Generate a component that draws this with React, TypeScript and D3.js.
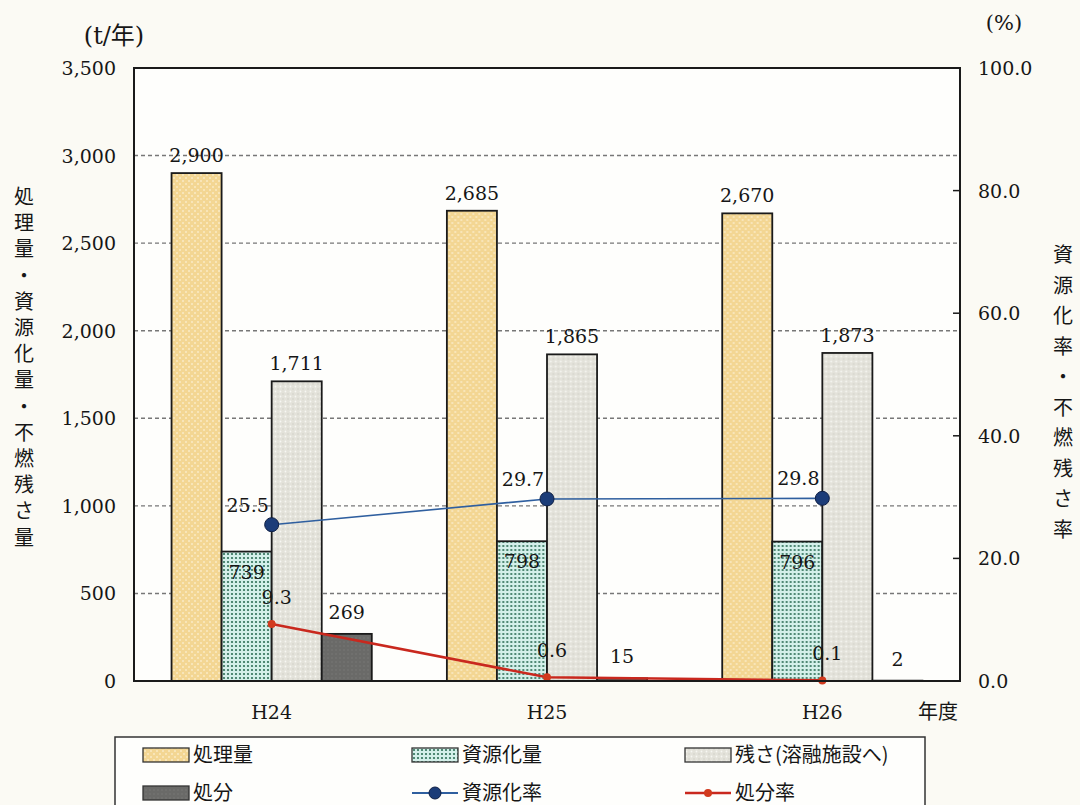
import * as d3 from "d3";

const years = ["H24", "H25", "H26"];
const seriesKeys = ["shori", "shigen", "zansa", "shobun"];
const seriesNames = ["処理量", "資源化量", "残さ(溶融施設へ)", "処分"];
const shoriVals = [2900, 2685, 2670];
const shigenVals = [739, 798, 796];
const zansaVals = [1711, 1865, 1873];
const shobunVals = [269, 15, 2];
const shigenRate = [25.5, 29.7, 29.8];
const shobunRate = [9.3, 0.6, 0.1];
const leftTicks = [0, 500, 1000, 1500, 2000, 2500, 3000, 3500];
const rightTicks = [0, 20, 40, 60, 80, 100];
const leftTitle = "処理量・資源化量・不燃残さ量";
const rightTitle = "資源化率・不燃残さ率";

const W = 1080;
const H = 805;
const PL = 134;
const PR = 960;
const PT = 68;
const PB = 681;

const SERIF = "'DejaVu Serif', serif";
const JP = "'Noto Sans CJK JP', sans-serif";
const INK = "#161616";

const fills: Record<string, string> = {
  shori: "url(#pShori)",
  shigen: "url(#pShigen)",
  zansa: "url(#pZansa)",
  shobun: "url(#pShobun)",
};

export default function App() {
  const x0 = d3.scaleBand<string>().domain(years).range([PL, PR]);
  const x1 = d3
    .scaleBand<string>()
    .domain(seriesKeys)
    .range([0, x0.bandwidth()])
    .paddingOuter(0.75);
  const y = d3.scaleLinear().domain([0, 3500]).range([PB, PT]);
  const yr = d3.scaleLinear().domain([0, 100]).range([PB, PT]);
  const fmt = d3.format(",");

  const valsByKey: Record<string, number[]> = {
    shori: shoriVals,
    shigen: shigenVals,
    zansa: zansaVals,
    shobun: shobunVals,
  };

  const cx = (yr_: string) => (x0(yr_) ?? 0) + x0.bandwidth() / 2;

  const line = d3
    .line<number>()
    .x((_, i) => cx(years[i]))
    .y((d) => yr(d));

  return (
    <div style={{ position: "absolute", left: 0, top: 0 }}>
      <svg width={W} height={H} style={{ display: "block", background: "#fbfaf4" }}>
        <defs>
          <pattern id="pShori" width="6" height="6" patternUnits="userSpaceOnUse">
            <rect width="6" height="6" fill="#f3d693" />
            <rect x="0" y="0" width="2" height="2" fill="#f8e5b8" />
            <rect x="3" y="3" width="2" height="2" fill="#f8e5b8" />
          </pattern>
          <pattern id="pShigen" width="4" height="4" patternUnits="userSpaceOnUse">
            <rect width="4" height="4" fill="#d4f0ea" />
            <circle cx="2" cy="2" r="1.1" fill="#2f6f58" />
          </pattern>
          <pattern id="pZansa" width="5" height="5" patternUnits="userSpaceOnUse">
            <rect width="5" height="5" fill="#e3e2da" />
            <circle cx="1.5" cy="1.5" r="0.9" fill="#f7f7f3" />
            <circle cx="4" cy="4" r="0.7" fill="#cfcec6" />
          </pattern>
          <pattern id="pShobun" width="4" height="4" patternUnits="userSpaceOnUse">
            <rect width="4" height="4" fill="#6a6a68" />
            <circle cx="2" cy="2" r="0.8" fill="#787876" />
          </pattern>
        </defs>

        {/* plot background */}
        <rect x={PL} y={PT} width={PR - PL} height={PB - PT} fill="#fefefc" />

        {/* gridlines */}
        {leftTicks
          .filter((t) => t > 0 && t < 3500)
          .map((t) => (
            <line
              key={`g-${t}`}
              x1={PL}
              x2={PR}
              y1={y(t)}
              y2={y(t)}
              stroke="#777"
              strokeWidth={1.4}
              strokeDasharray="4 3"
            />
          ))}

        {/* bars */}
        {years.map((yr_, i) => (
          <g key={yr_} transform={`translate(${x0(yr_)},0)`}>
            {seriesKeys.map((k) => {
              const v = valsByKey[k][i];
              return (
                <rect
                  key={k}
                  x={x1(k)}
                  y={y(v)}
                  width={x1.bandwidth()}
                  height={PB - y(v)}
                  fill={fills[k]}
                  stroke="#1a1a1a"
                  strokeWidth={1.8}
                />
              );
            })}
          </g>
        ))}

        {/* bar labels */}
        {years.map((yr_, i) =>
          seriesKeys.map((k) => {
            const v = valsByKey[k][i];
            const bx = (x0(yr_) ?? 0) + (x1(k) ?? 0) + x1.bandwidth() / 2;
            const inside = k === "shigen";
            const ty = inside ? y(v) + 27 : y(v) - (k === "shobun" ? 15 : 11);
            return (
              <text
                key={`l-${yr_}-${k}`}
                x={bx}
                y={ty}
                textAnchor="middle"
                fontFamily={SERIF}
                fontSize={19}
                fill={INK}
              >
                {fmt(v)}
              </text>
            );
          })
        )}

        {/* lines */}
        <path d={line(shigenRate) ?? ""} fill="none" stroke="#2f5f9f" strokeWidth={1.6} />
        <path d={line(shobunRate) ?? ""} fill="none" stroke="#c9281e" strokeWidth={2.6} />
        {shigenRate.map((v, i) => (
          <circle
            key={`c1-${i}`}
            cx={cx(years[i])}
            cy={yr(v)}
            r={7}
            fill="#1b3c78"
            stroke="#0e1f44"
            strokeWidth={1}
          />
        ))}
        {shobunRate.map((v, i) => (
          <circle key={`c2-${i}`} cx={cx(years[i])} cy={yr(v)} r={4} fill="#d23a1e" />
        ))}
        {shigenRate.map((v, i) => (
          <text
            key={`t1-${i}`}
            x={cx(years[i]) - 24}
            y={yr(v) - 13}
            textAnchor="middle"
            fontFamily={SERIF}
            fontSize={19}
            fill={INK}
          >
            {v.toFixed(1)}
          </text>
        ))}
        {shobunRate.map((v, i) => (
          <text
            key={`t2-${i}`}
            x={cx(years[i]) + 5}
            y={yr(v) - 20}
            textAnchor="middle"
            fontFamily={SERIF}
            fontSize={19}
            fill={INK}
          >
            {v.toFixed(1)}
          </text>
        ))}

        {/* frame */}
        <rect
          x={PL}
          y={PT}
          width={PR - PL}
          height={PB - PT}
          fill="none"
          stroke="#1a1a1a"
          strokeWidth={2}
        />

        {/* left axis labels */}
        {leftTicks.map((t) => (
          <text
            key={`yl-${t}`}
            x={116}
            y={y(t) + 7}
            textAnchor="end"
            fontFamily={SERIF}
            fontSize={19}
            fill={INK}
          >
            {fmt(t)}
          </text>
        ))}
        {/* right axis */}
        {rightTicks.map((t) => (
          <g key={`yr-${t}`}>
            <line x1={PR} x2={PR - 7} y1={yr(t)} y2={yr(t)} stroke="#1a1a1a" strokeWidth={1.5} />
            <text
              x={978}
              y={yr(t) + 7}
              textAnchor="start"
              fontFamily={SERIF}
              fontSize={19}
              fill={INK}
            >
              {t.toFixed(1)}
            </text>
          </g>
        ))}

        {/* x labels */}
        {years.map((yr_) => (
          <text
            key={`x-${yr_}`}
            x={cx(yr_)}
            y={719}
            textAnchor="middle"
            fontFamily={SERIF}
            fontSize={19}
            fill={INK}
          >
            {yr_}
          </text>
        ))}
        <text x={938} y={719} textAnchor="middle" fontFamily={JP} fontSize={20} fill={INK}>
          年度
        </text>

        {/* units */}
        <text x={114} y={44} textAnchor="middle" fontFamily={SERIF} fontSize={24} fill={INK}>
          (t/<tspan fontFamily={JP}>年</tspan>)
        </text>
        <text x={1004} y={30} textAnchor="middle" fontFamily={SERIF} fontSize={21} fill={INK}>
          (%)
        </text>

        {/* vertical titles */}
        {Array.from(leftTitle).map((ch, i) => (
          <text
            key={`lt-${i}`}
            x={24}
            y={197 + i * 26.2 + 7}
            textAnchor="middle"
            fontFamily={JP}
            fontSize={20}
            fill={INK}
          >
            {ch}
          </text>
        ))}
        {Array.from(rightTitle).map((ch, i) => (
          <text
            key={`rt-${i}`}
            x={1063}
            y={255 + i * 30.5 + 7}
            textAnchor="middle"
            fontFamily={JP}
            fontSize={20}
            fill={INK}
          >
            {ch}
          </text>
        ))}

        {/* legend */}
        <rect x={115} y={737} width={810} height={90} fill="#fefefc" stroke="#333" strokeWidth={1.5} />
        {seriesKeys.map((k, i) => {
          const col = i % 3;
          const row = Math.floor(i / 3);
          const lx = [143, 412, 685][col];
          const ly = [755, 793][row];
          return (
            <g key={`lg-${k}`}>
              <rect
                x={lx}
                y={ly - 7}
                width={46}
                height={14}
                fill={fills[k]}
                stroke="#333"
                strokeWidth={1.3}
              />
              <text x={lx + 50} y={ly + 7} fontFamily={JP} fontSize={20} fill={INK}>
                {seriesNames[i]}
              </text>
            </g>
          );
        })}
        <g>
          <line x1={412} x2={458} y1={793} y2={793} stroke="#2f5f9f" strokeWidth={1.8} />
          <circle cx={435} cy={793} r={6} fill="#1b3c78" stroke="#0e1f44" />
          <text x={462} y={800} fontFamily={JP} fontSize={20} fill={INK}>
            資源化率
          </text>
        </g>
        <g>
          <line x1={685} x2={731} y1={793} y2={793} stroke="#c9281e" strokeWidth={2.6} />
          <circle cx={708} cy={793} r={4} fill="#d23a1e" />
          <text x={735} y={800} fontFamily={JP} fontSize={20} fill={INK}>
            処分率
          </text>
        </g>
      </svg>
    </div>
  );
}
